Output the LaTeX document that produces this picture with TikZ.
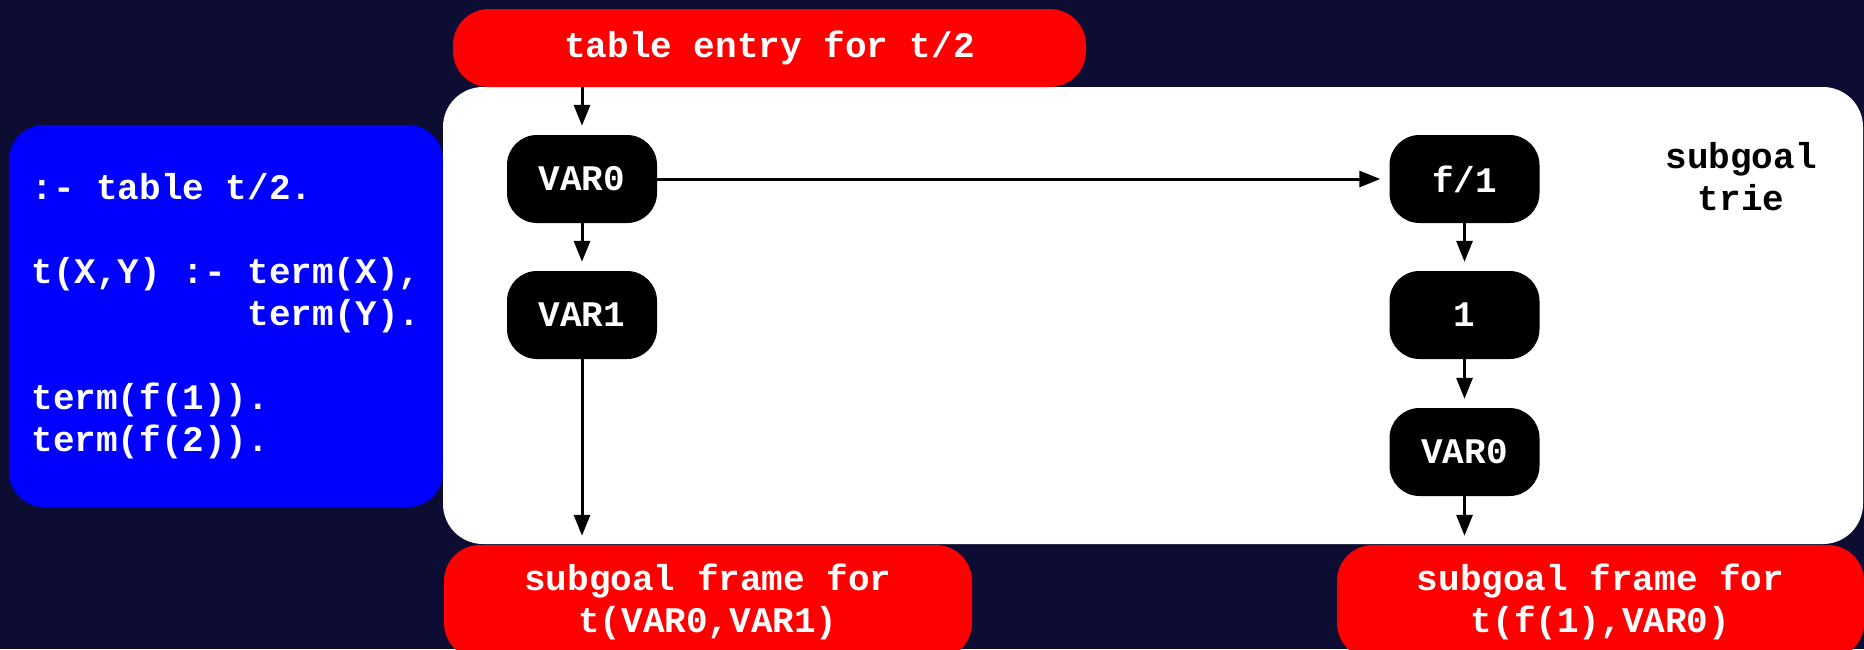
\documentclass[tikz,border=0pt]{standalone}
\usepackage{xcolor}
\usepackage{fontspec}
\setmonofont{Liberation Mono}
\usepackage{tikz}
\usetikzlibrary{arrows.meta, positioning}
\definecolor{bgnavy}{RGB}{13,13,51}
\tikzstyle{arrow} = [line width=3pt, -{Triangle[length=21pt, width=16pt]}, shorten >=9pt]
\tikzstyle{redbox} = [fill=red, text=white, rounded corners=36pt, align=center, inner sep=0pt]
\tikzstyle{trienode} = [fill=black, text=white, rounded corners=30pt, minimum width=150pt, minimum height=88pt, inner sep=0pt]

\begin{document}
\begin{tikzpicture}[x=1pt, y=-1pt, every node/.style={font=\ttfamily\bfseries\fontsize{36}{42}\selectfont}]
% Background and page size
\useasboundingbox (0,0) rectangle (1864,649);
\clip (0,0) rectangle (1864,649);
\fill [bgnavy] (0,0) rectangle (1864,649);

% Program text
\node (prog) at (226,316) [fill=blue, text=white, rounded corners=35pt, minimum width=434pt, minimum height=382pt, align=left, inner sep=0pt] {:- table t/2.\\ \\t(X,Y) :- term(X),\\\phantom{t(X,Y) :- }term(Y).\\ \\term(f(1)).\\term(f(2)).};

% Subgoal trie area
\fill [white, rounded corners=40pt] (443,87) rectangle (1863,544);
\node (trielabel) at (1741,177) [text=black, align=center] {subgoal\\trie};

% Table entry and subgoal frames
\node (entry) at (769.5,48) [redbox, minimum width=633pt, minimum height=78pt] {table entry for t/2};
\node (lframe) at (708,602) [redbox, minimum width=528pt, minimum height=114pt] {subgoal frame for\\t(VAR0,VAR1)};
\node (rframe) at (1600.5,602) [redbox, minimum width=527pt, minimum height=114pt] {subgoal frame for\\t(f(1),VAR0)};

% Trie nodes
\node (varA) at (582,179) [trienode] {VAR0};
\node (varB) at (582,315) [trienode] {VAR1};
\node (func) at (1464.5,179) [trienode] {f/1};
\node (one) at (1464.5,315) [trienode] {1};
\node (varC) at (1464.5,452) [trienode] {VAR0};

% Links
\draw [arrow] (varA |- entry.south) -- (varA.north);
\draw [arrow] (varA) -- (varB);
\draw [arrow] (varA) -- (func);
\draw [arrow] (func) -- (one);
\draw [arrow] (one) -- (varC);
\draw [arrow] (varB) -- (varB |- lframe.north);
\draw [arrow] (varC) -- (varC |- rframe.north);

\end{tikzpicture}
\end{document}
